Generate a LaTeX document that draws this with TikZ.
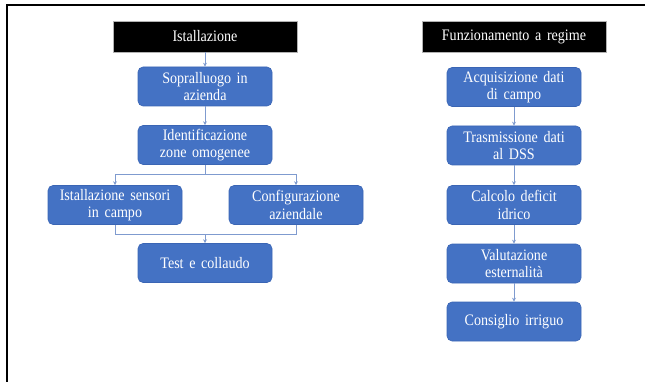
\documentclass[tikz,border=0pt]{standalone}
\usepackage{fontspec}
\setmainfont[FakeStretch=0.88,WordSpace=1.6]{Liberation Serif}
\usetikzlibrary{arrows.meta}
\definecolor{boxblue}{HTML}{4472C4}
\definecolor{boxedge}{HTML}{3A65B4}
\definecolor{connblue}{HTML}{7F9BCF}
\tikzset{
  stepbox/.style={draw=boxedge, line width=0.6pt, fill=boxblue, rounded corners=5pt,
    text=white, align=center, minimum width=134pt, minimum height=39pt,
    inner sep=1pt, font=\fontsize{16}{17.5}\selectfont},
  headbox/.style={draw=gray!60, line width=0.5pt, fill=black, text=white, align=center,
    minimum width=184pt, minimum height=31pt, inner sep=1pt,
    font=\fontsize{16}{17.5}\selectfont},
  conn/.style={draw=connblue, line width=0.9pt, -{Stealth[length=4pt,width=4pt]}},
  plainconn/.style={draw=connblue, line width=0.9pt},
}
\begin{document}
\begin{tikzpicture}[x=1pt,y=-1pt]
\useasboundingbox (0,0) rectangle (645,382);
\draw[line width=2pt] (7,382) -- (7,5.5) -- (645,5.5);
% left column
\node[headbox] (h1) at (205,36.5) {Istallazione};
\node[stepbox] (s1) at (205,86.5) {Sopralluogo in\\azienda};
\node[stepbox] (s2) at (205,145) {Identificazione\\zone omogenee};
\node[stepbox] (s3a) at (115,205) {Istallazione sensori\\in campo};
\node[stepbox] (s3b) at (296,205) {Configurazione\\aziendale};
\node[stepbox] (s4) at (205,263) {Test e collaudo};
\coordinate (b1) at (205,174);
\coordinate (m1) at (205,234);
\draw[conn] (h1) -- (s1);
\draw[conn] (s1) -- (s2);
\draw[plainconn] (s2) -- (b1);
\draw[conn] (b1) -| (s3a);
\draw[conn] (b1) -| (s3b);
\draw[plainconn] (s3a) |- (m1);
\draw[plainconn] (s3b) |- (m1);
\draw[conn] (m1) -- (s4);
% right column
\node[headbox] (h2) at (514,36.5) {Funzionamento a regime};
\node[stepbox] (r1) at (514,87) {Acquisizione dati\\di campo};
\node[stepbox] (r2) at (514,145.5) {Trasmissione dati\\al DSS};
\node[stepbox] (r3) at (514,205) {Calcolo deficit\\idrico};
\node[stepbox] (r4) at (514,263.5) {Valutazione\\esternalità};
\node[stepbox] (r5) at (514,321.5) {Consiglio irriguo};
\draw[conn] (r1) -- (r2);
\draw[conn] (r2) -- (r3);
\draw[conn] (r3) -- (r4);
\draw[conn] (r4) -- (r5);
\end{tikzpicture}
\end{document}
